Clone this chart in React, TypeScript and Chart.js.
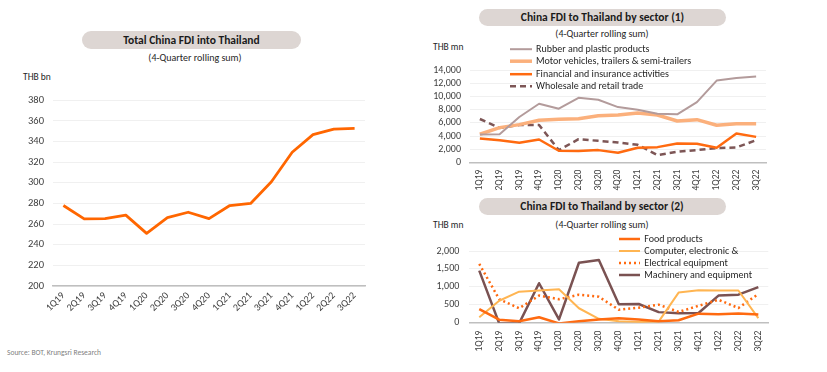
import React, { useEffect, useRef } from "react";
import { Chart, registerables } from "chart.js";

Chart.register(...registerables);

const FONT = "Carlito, Calibri, Lato, 'Open Sans', sans-serif";

const categories = ["1Q19", "2Q19", "3Q19", "4Q19", "1Q20", "2Q20", "3Q20", "4Q20", "1Q21", "2Q21", "3Q21", "4Q21", "1Q22", "2Q22", "3Q22"];

// Total China FDI into Thailand (THB bn)
const totalFdi = [278, 265, 265.3, 268.7, 251, 266.2, 271.5, 265.3, 278, 280, 301, 329.6, 346.7, 352, 352.7];
const totalTicks = { min: 200, max: 380, step: 20 };

// Sector (1) (THB mn)
const rubber = [4250, 4300, 6900, 8900, 8150, 9800, 9500, 8400, 8000, 7400, 7300, 9150, 12400, 12800, 13000];
const motor = [4300, 5300, 5750, 6400, 6550, 6650, 7100, 7200, 7500, 7200, 6300, 6500, 5650, 5900, 5900];
const financial = [3650, 3400, 3000, 3500, 1800, 1750, 1900, 1500, 2250, 2350, 2900, 2850, 2250, 4400, 3900];
const wholesale = [6600, 5250, 5700, 5700, 1900, 3550, 3300, 3050, 2700, 1150, 1650, 1900, 2200, 2300, 3400];
const sector1Ticks = { min: 0, max: 14000, step: 2000 };

// Sector (2) (THB mn)
const food = [378, 84, 42, 151, -20, 42, 92, 126, 92, 43, 68, 252, 235, 260, 227];
const computer = [151, 613, 866, 899, 933, 403, 109, 42, 17, 30, 840, 907, 899, 899, 126];
const electrical = [1639, 655, 403, 756, 655, 781, 723, 361, 420, 504, 300, 471, 640, 410, 800];
const machinery = [1454, -20, -20, 1101, 92, 1672, 1748, 513, 521, 295, 265, 270, 756, 781, 992];
const sector2Ticks = { min: 0, max: 2000, step: 500 };

type DS = { label: string; data: number[]; color: string; width: number; dash?: number[] };

const sector1Series: DS[] = [
  { label: "Rubber and plastic products", data: rubber, color: "#b39b9b", width: 2 },
  { label: "Motor vehicles, trailers & semi-trailers", data: motor, color: "#fbb07c", width: 3.5 },
  { label: "Financial and insurance activities", data: financial, color: "#ff6a10", width: 2.5 },
  { label: "Wholesale and retail trade", data: wholesale, color: "#7d5656", width: 2.5, dash: [6, 4] },
];

const sector2Series: DS[] = [
  { label: "Food products", data: food, color: "#ff6a10", width: 2.5 },
  { label: "Computer, electronic &", data: computer, color: "#ffb552", width: 2 },
  { label: "Electrical equipment", data: electrical, color: "#ff6a10", width: 2.5, dash: [2, 3] },
  { label: "Machinery and equipment", data: machinery, color: "#7a5252", width: 2.5 },
];

type Cfg = {
  series: DS[];
  ticks: { min: number; max: number; step: number };
  yWidth: number;
  yPad: number;
  xHeight: number;
  xPad: number;
  rotation: number;
  padTop: number;
  padRight: number;
  fontSize: number;
  xFontSize: number;
};

function LineChart({ cfg, style }: { cfg: Cfg; style: React.CSSProperties }) {
  const ref = useRef<HTMLCanvasElement | null>(null);
  useEffect(() => {
    if (!ref.current) return;
    const chart = new Chart(ref.current, {
      type: "line",
      data: {
        labels: categories,
        datasets: cfg.series.map((s) => ({
          label: s.label,
          data: s.data,
          borderColor: s.color,
          backgroundColor: s.color,
          borderWidth: s.width,
          borderDash: s.dash || [],
          pointRadius: 0,
          tension: 0,
          fill: false,
          borderCapStyle: "butt" as const,
          borderJoinStyle: "round" as const,
        })),
      },
      options: {
        animation: false,
        responsive: false,
        maintainAspectRatio: false,
        layout: { padding: { top: cfg.padTop, right: cfg.padRight, left: 0, bottom: 0 } },
        plugins: { legend: { display: false }, tooltip: { enabled: false } },
        scales: {
          x: {
            offset: true,
            grid: { display: false, drawTicks: false },
            border: { display: true, color: "#bfbfbf", width: 1.5 },
            ticks: {
              minRotation: cfg.rotation,
              maxRotation: cfg.rotation,
              padding: cfg.xPad,
              color: "#404040",
              font: { family: FONT, size: cfg.xFontSize },
              autoSkip: false,
            },
            afterFit: (scale: any) => {
              scale.height = cfg.xHeight;
            },
          },
          y: {
            min: cfg.ticks.min,
            max: cfg.ticks.max,
            grid: { color: "#f0f0f0", drawTicks: false, lineWidth: 1 },
            border: { display: false },
            ticks: {
              stepSize: cfg.ticks.step,
              autoSkip: false,
              padding: cfg.yPad,
              color: "#404040",
              font: { family: FONT, size: cfg.fontSize },
              callback: (v: any) => Number(v).toLocaleString("en-US"),
            },
            afterFit: (scale: any) => {
              scale.width = cfg.yWidth;
            },
          },
        },
      },
    });
    return () => chart.destroy();
  }, []);
  const w = style.width as number;
  const h = style.height as number;
  return <canvas ref={ref} width={w} height={h} style={{ position: "absolute", ...style }} />;
}

function Pill({ left, top, width, height, text }: { left: number; top: number; width: number; height: number; text: string }) {
  return (
    <div
      style={{
        position: "absolute",
        left,
        top,
        width,
        height,
        borderRadius: height / 2,
        background: "#ddd6d3",
        color: "#1a1a1a",
        fontFamily: FONT,
        fontWeight: 700,
        fontSize: 11.5,
        lineHeight: height + "px",
        textAlign: "center",
        whiteSpace: "nowrap",
      }}
    >
      {text}
    </div>
  );
}

function Label({ cx, cy, text, size, left, color }: { cx?: number; cy: number; text: string; size: number; left?: number; color?: string }) {
  const st: React.CSSProperties = {
    position: "absolute",
    top: cy - 8,
    height: 16,
    lineHeight: "16px",
    fontFamily: FONT,
    fontSize: size,
    color: color || "#262626",
    whiteSpace: "nowrap",
  };
  if (left !== undefined) {
    st.left = left;
  } else {
    st.left = (cx as number) - 150;
    st.width = 300;
    st.textAlign = "center";
  }
  return <div style={st}>{text}</div>;
}

function Legend({ left, top, rowH, series, swatch, gap }: { left: number; top: number; rowH: number; series: DS[]; swatch: number; gap: number }) {
  return (
    <div style={{ position: "absolute", left, top }}>
      {series.map((s, i) => (
        <div key={i} style={{ display: "flex", alignItems: "center", height: rowH, whiteSpace: "nowrap" }}>
          <svg width={swatch} height={rowH} style={{ display: "block" }}>
            <line
              x1={0}
              x2={swatch}
              y1={rowH / 2}
              y2={rowH / 2}
              stroke={s.color}
              strokeWidth={s.width}
              strokeDasharray={s.dash ? s.dash.join(",") : undefined}
            />
          </svg>
          <span
            style={{
              marginLeft: gap,
              fontFamily: FONT,
              fontSize: 10,
              color: "#262626",
              lineHeight: rowH + "px",
            }}
          >
            {s.label}
          </span>
        </div>
      ))}
    </div>
  );
}

export default function App() {
  const totalCfg: Cfg = {
    series: [{ label: "Total China FDI", data: totalFdi, color: "#ff6600", width: 2.75 }],
    ticks: totalTicks,
    yWidth: 53,
    yPad: 9,
    xHeight: 44,
    xPad: 4,
    rotation: 45,
    padTop: 8,
    padRight: 15,
    fontSize: 10.5,
    xFontSize: 10,
  };
  const s1Cfg: Cfg = {
    series: sector1Series,
    ticks: sector1Ticks,
    yWidth: 50,
    yPad: 9,
    xHeight: 32.3,
    xPad: 7,
    rotation: 90,
    padTop: 14.3,
    padRight: 14,
    fontSize: 10,
    xFontSize: 9.5,
  };
  const s2Cfg: Cfg = {
    series: sector2Series,
    ticks: sector2Ticks,
    yWidth: 49.3,
    yPad: 10,
    xHeight: 32.3,
    xPad: 8,
    rotation: 90,
    padTop: 8.3,
    padRight: 11.7,
    fontSize: 10,
    xFontSize: 9.5,
  };
  return (
    <div style={{ position: "absolute", left: 0, top: 0, width: 827, height: 372, background: "#ffffff", overflow: "hidden" }}>
      <LineChart cfg={totalCfg} style={{ left: 0, top: 85, width: 380, height: 245 }} />
      <LineChart cfg={s1Cfg} style={{ left: 420, top: 55, width: 360, height: 140 }} />
      <LineChart cfg={s2Cfg} style={{ left: 420, top: 235, width: 360, height: 120 }} />

      <Pill left={82} top={31} width={219} height={18} text="Total China FDI into Thailand" />
      <Label cx={195} cy={58} text="(4-Quarter rolling sum)" size={10} />
      <Label left={23} cy={77} text="THB bn" size={9.5} />

      <Pill left={479} top={8.5} width={247} height={17.5} text="China FDI to Thailand by sector (1)" />
      <Label cx={602} cy={33.5} text="(4-Quarter rolling sum)" size={10} />
      <Label left={433} cy={47} text="THB mn" size={9.5} />
      <Legend left={510} top={42.8} rowH={12.4} series={sector1Series} swatch={22} gap={4} />

      <Pill left={478.5} top={197.7} width={247} height={17.5} text="China FDI to Thailand by sector (2)" />
      <Label cx={602} cy={225} text="(4-Quarter rolling sum)" size={10} />
      <Label left={433} cy={225} text="THB mn" size={9.5} />
      <Legend left={619.3} top={233} rowH={12} series={sector2Series} swatch={21} gap={4} />

      <Label left={7} cy={353} text="Source: BOT, Krungsri Research" size={7.5} color="#7f7f7f" />
    </div>
  );
}
